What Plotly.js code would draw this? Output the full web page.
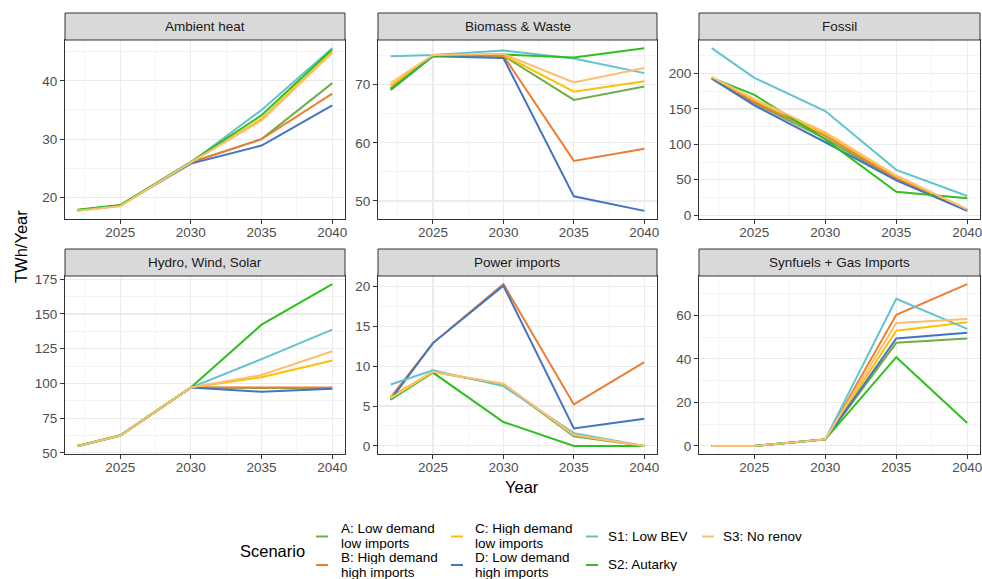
<!DOCTYPE html>
<html>
<head>
<meta charset="utf-8">
<script src="https://cdn.plot.ly/plotly-3.0.1.min.js"></script>
<style>
  html, body { margin: 0; padding: 0; background: #ffffff; }
  #chart { width: 982px; height: 579px; }
</style>
</head>
<body>
<div id="chart"></div>
<script>
// ---------------- DATA ----------------
const years = [2022, 2025, 2030, 2035, 2040];
const scenarioLabels = [
  'A: Low demand<br>low imports',
  'B: High demand<br>high imports',
  'C: High demand<br>low imports',
  'D: Low demand<br>high imports',
  'S1: Low BEV',
  'S2: Autarky',
  'S3: No renov'
];
const scenarioColors = ['#70AD47', '#ED7D31', '#FFC000', '#4472C4', '#62C3CF', '#2FBF1F', '#FDBF6F'];
const panelTitles = ['Ambient heat', 'Biomass & Waste', 'Fossil', 'Hydro, Wind, Solar', 'Power imports', 'Synfuels + Gas Imports'];
const yTickValues = [
  [20, 30, 40],
  [50, 60, 70],
  [0, 50, 100, 150, 200],
  [50, 75, 100, 125, 150, 175],
  [0, 5, 10, 15, 20],
  [0, 20, 40, 60]
];
const xTickValues = [2025, 2030, 2035, 2040];

// rows: A, B, C, D, S1, S2, S3 ; columns: years
const ambientHeat = [
  [17.8, 18.6, 26.0, 30.0, 39.6],
  [17.8, 18.6, 26.0, 30.0, 37.8],
  [17.8, 18.6, 26.0, 33.5, 45.0],
  [17.8, 18.6, 25.8, 28.9, 35.8],
  [17.8, 18.6, 26.0, 35.0, 45.6],
  [17.9, 18.7, 26.1, 34.1, 45.4],
  [17.7, 18.5, 26.0, 33.2, 44.8]
];
const biomassWaste = [
  [69.3, 75.0, 75.0, 67.4, 69.7],
  [69.4, 75.0, 75.0, 56.9, 59.0],
  [69.8, 75.0, 75.1, 68.8, 70.6],
  [69.1, 74.9, 74.6, 50.8, 48.3],
  [74.9, 75.1, 75.9, 74.5, 72.0],
  [69.2, 75.0, 75.2, 74.7, 76.3],
  [70.3, 75.1, 75.3, 70.4, 72.9]
];
const fossil = [
  [194, 158, 108, 50, 7],
  [194, 160, 112, 52, 7],
  [195, 163, 115, 55, 8],
  [193, 155, 103, 49, 6],
  [236, 194, 147, 64, 27],
  [194, 170, 107, 33, 24],
  [195, 164, 117, 56, 8]
];
const hydroWindSolar = [
  [55, 62.5, 97, 96.5, 96.5],
  [55, 62.5, 97, 97.0, 97.0],
  [55, 62.5, 97, 104.5, 116.5],
  [55, 62.5, 97, 94.0, 96.2],
  [55, 62.5, 97, 117.5, 138.7],
  [55, 62.5, 97, 142.3, 171.5],
  [55, 62.5, 97, 106.0, 123.2]
];
const powerImports = [
  [5.9, 9.3, 7.7, 1.2, 0],
  [6.1, 12.9, 20.3, 5.2, 10.5],
  [6.2, 9.3, 7.7, 1.4, 0],
  [5.8, 12.9, 20.1, 2.2, 3.4],
  [7.7, 9.5, 7.5, 1.6, 0],
  [5.8, 9.2, 3.0, 0, 0],
  [6.0, 9.3, 7.8, 1.4, 0]
];
const synfuelsGasImports = [
  [0, 0, 3, 47.4, 49.4],
  [0, 0, 3, 60.3, 74.4],
  [0, 0, 3, 53.0, 56.9],
  [0, 0, 3, 49.4, 52.0],
  [0, 0, 3, 67.6, 53.8],
  [0, 0, 3, 40.8, 10.5],
  [0, 0, 3, 56.5, 58.3]
];
const panelData = [ambientHeat, biomassWaste, fossil, hydroWindSolar, powerImports, synfuelsGasImports];

// ---------------- LAYOUT HELPERS ----------------
const W = 982, H = 579;
const px = v => v / W;
const py = v => 1 - v / H;
const FONT = 'Liberation Sans, Arial, Helvetica, sans-serif';
const colPx = [[65, 345], [378, 657], [699, 980]];
const rowPx = [[40, 219], [276, 454]];
const stripTop = [13, 249];

const traces = [];
const layout = {
  width: W, height: H,
  margin: {l: 0, r: 0, t: 0, b: 0, pad: 0},
  paper_bgcolor: '#ffffff',
  plot_bgcolor: '#ffffff',
  showlegend: false,
  font: {family: FONT, color: '#4d4d4d'},
  shapes: [],
  annotations: []
};

panelData.forEach((data, p) => {
  const col = p % 3, row = Math.floor(p / 3);
  const ax = p === 0 ? '' : String(p + 1);
  const flat = data.flat();
  const mn = Math.min(...flat), mx = Math.max(...flat);
  const pad = 0.05 * (mx - mn);
  const yt = yTickValues[p];
  const ystep = yt[1] - yt[0];

  data.forEach((vals, s) => {
    traces.push({
      type: 'scatter', mode: 'lines',
      x: years, y: vals,
      name: scenarioLabels[s].replace('<br>', ' '),
      xaxis: 'x' + ax, yaxis: 'y' + ax,
      line: {color: scenarioColors[s], width: 2},
      hoverinfo: 'skip'
    });
  });

  const common = {
    showline: true, mirror: true, linecolor: '#333333', linewidth: 1,
    ticks: 'outside', ticklen: 4, tickwidth: 1, tickcolor: '#333333',
    showgrid: true, gridcolor: '#ebebeb', gridwidth: 1.1,
    zeroline: false,
    ticklabeloverflow: 'allow',
    tickfont: {family: FONT, size: 13.5, color: '#4d4d4d'},
    fixedrange: true
  };

  layout['xaxis' + ax] = Object.assign({}, common, {
    domain: [px(colPx[col][0]), px(colPx[col][1])],
    anchor: 'y' + ax,
    range: [2022 - 0.9, 2040 + 0.9],
    tickmode: 'array', tickvals: xTickValues, ticktext: xTickValues.map(String),
    ticklabelstandoff: -3,
    minor: {tickmode: 'linear', tick0: 2022.5, dtick: 5, showgrid: true, gridcolor: '#ebebeb', gridwidth: 0.55, ticks: ''}
  });
  layout['yaxis' + ax] = Object.assign({}, common, {
    domain: [py(rowPx[row][1]), py(rowPx[row][0])],
    anchor: 'x' + ax,
    range: [mn - pad, mx + pad],
    tickmode: 'array', tickvals: yt, ticktext: yt.map(String),
    minor: {tickmode: 'linear', tick0: yt[0], dtick: ystep / 2, showgrid: true, gridcolor: '#ebebeb', gridwidth: 0.55, ticks: ''}
  });

  // strip
  layout.shapes.push({
    type: 'rect', xref: 'paper', yref: 'paper',
    x0: px(colPx[col][0]), x1: px(colPx[col][1]),
    y0: py(rowPx[row][0]), y1: py(stripTop[row]),
    fillcolor: '#d9d9d9', line: {color: '#333333', width: 1}
  });
  layout.annotations.push({
    xref: 'paper', yref: 'paper', showarrow: false,
    x: px((colPx[col][0] + colPx[col][1]) / 2),
    y: py((stripTop[row] + rowPx[row][0]) / 2),
    xanchor: 'center', yanchor: 'middle',
    text: panelTitles[p],
    font: {family: FONT, size: 13.5, color: '#1a1a1a'}
  });
});

// axis titles
layout.annotations.push({
  xref: 'paper', yref: 'paper', showarrow: false,
  x: px(522), y: py(487), xanchor: 'center', yanchor: 'middle',
  text: 'Year', font: {family: FONT, size: 16.5, color: '#000000'}
});
layout.annotations.push({
  xref: 'paper', yref: 'paper', showarrow: false,
  x: px(21), y: py(247), xanchor: 'center', yanchor: 'middle',
  textangle: -90,
  text: 'TWh/Year', font: {family: FONT, size: 16.5, color: '#000000'}
});

// legend (drawn as keys + text)
layout.annotations.push({
  xref: 'paper', yref: 'paper', showarrow: false,
  x: px(238), y: py(551), xanchor: 'left', yanchor: 'middle',
  text: 'Scenario', font: {family: FONT, size: 16.5, color: '#000000'}
});
const legKeyX = [316, 451, 586, 702];
const legTextX = [340, 474, 607, 722];
const legRowY = [536.5, 565];
const legLineY = [[528.5, 543], [557.5, 572]];
scenarioLabels.forEach((lab, s) => {
  const c = Math.floor(s / 2), r = s % 2;
  const ky = legRowY[r];
  layout.shapes.push({
    type: 'line', xref: 'paper', yref: 'paper',
    x0: px(legKeyX[c]), x1: px(legKeyX[c] + 12), y0: py(ky), y1: py(ky),
    line: {color: scenarioColors[s], width: 2}
  });
  const lines = lab.split('<br>');
  lines.forEach((ln, i) => {
    const yy = lines.length === 1 ? ky - 0.5 : legLineY[r][i];
    layout.annotations.push({
      xref: 'paper', yref: 'paper', showarrow: false,
      x: px(legTextX[c]), y: py(yy), xanchor: 'left', yanchor: 'middle',
      height: 13, borderpad: 0,
      text: ln, font: {family: FONT, size: 13.5, color: '#000000'}
    });
  });
});

Plotly.newPlot('chart', traces, layout, {displayModeBar: false, staticPlot: true});
</script>
</body>
</html>
